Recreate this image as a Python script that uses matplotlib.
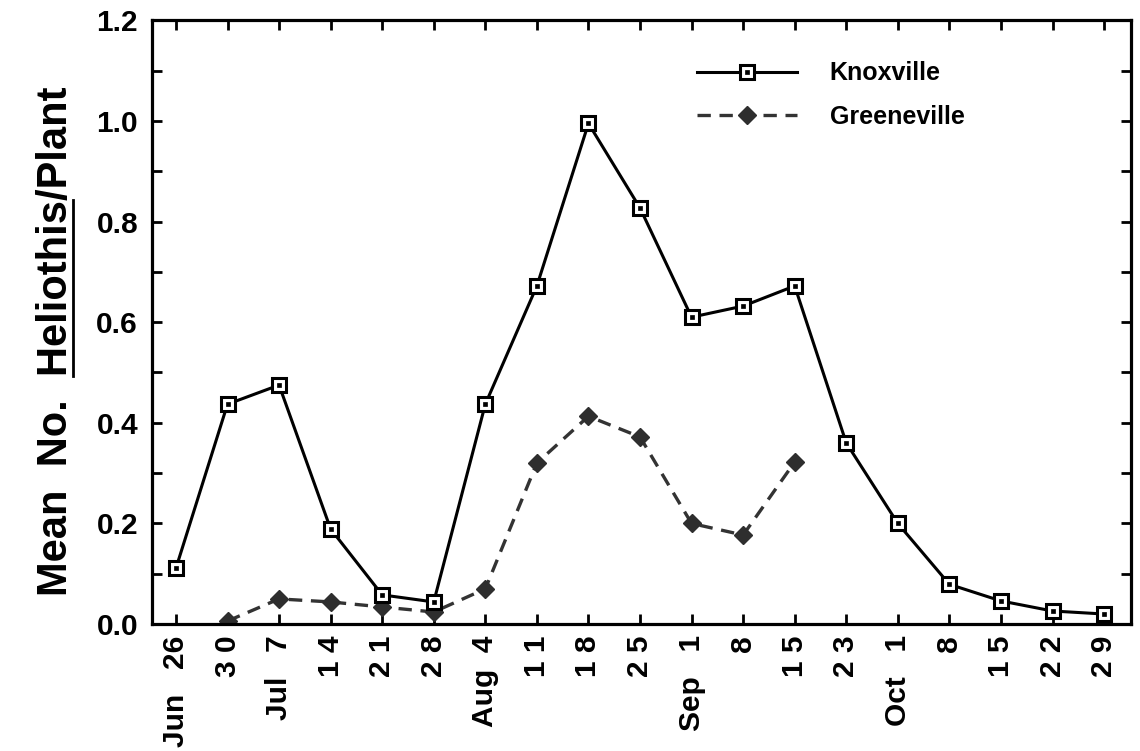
import matplotlib
matplotlib.use("Agg")
import matplotlib.pyplot as plt
from matplotlib.ticker import MultipleLocator
from matplotlib.lines import Line2D

plt.rcParams['font.family'] = ['Liberation Sans', 'DejaVu Sans']
plt.rcParams['font.weight'] = 'bold'

tick_labels = ["Jun   26", "3 0", "Jul   7", "1 4", "2 1", "2 8", "Aug  4", "1 1", "1 8",
               "2 5", "Sep   1", "8", "1 5", "2 3", "Oct   1", "8", "1 5", "2 2", "2 9"]
knoxville = [0.111, 0.437, 0.475, 0.189, 0.058, 0.044, 0.437, 0.672, 0.995, 0.827,
             0.610, 0.632, 0.672, 0.360, 0.200, 0.079, 0.046, 0.026, 0.020]
greeneville_idx = list(range(1, 13))
greeneville = [0.006, 0.050, 0.044, 0.034, 0.024, 0.070, 0.320, 0.413, 0.372,
               0.200, 0.177, 0.322]
ylabel_parts = ["Mean  No.  ", "Heliothis", "/Plant"]

fig = plt.figure(figsize=(11.4, 7.51), dpi=100)
ax = fig.add_axes([0.1333, 0.169, 0.8587, 0.804])

x = list(range(len(tick_labels)))
k_line, = ax.plot(x, knoxville, color='black', lw=2.2, marker='s', ms=9.5,
                  mfc='white', mec='black', mew=2.2, zorder=3)
k_dot, = ax.plot(x, knoxville, ls='none', marker='s', ms=2.2, mfc='black',
                 mec='black', mew=0.5, zorder=4)
g_line, = ax.plot(greeneville_idx, greeneville, color='#333333', lw=2.4,
                  dashes=(4, 2.6), marker='D', ms=9.5, mfc='#2e2e2e', mec='#2e2e2e',
                  zorder=2)

ax.set_xlim(-0.465, 18.52)
ax.set_ylim(0, 1.2)
ax.set_xticks(x)
ax.set_xticklabels(tick_labels, rotation=90, fontsize=21.5, fontweight='bold')
ax.yaxis.set_minor_locator(MultipleLocator(0.1))
ax.set_yticks([0, 0.2, 0.4, 0.6, 0.8, 1.0, 1.2])
ax.set_yticklabels(['0.0', '0.2', '0.4', '0.6', '0.8', '1.0', '1.2'],
                   fontsize=21.5, fontweight='bold')

ax.tick_params(axis='both', which='both', direction='in', top=True, right=True,
               width=2, color='black')
ax.tick_params(axis='x', which='major', length=7, pad=8)
ax.tick_params(axis='y', which='major', length=7, pad=10)
ax.tick_params(axis='y', which='minor', length=7)
for s in ax.spines.values():
    s.set_linewidth(2.3)

full_label = "".join(ylabel_parts)
ylab = ax.set_ylabel(full_label, fontsize=30, fontweight='bold')
ax.yaxis.set_label_coords(-0.078, 0.469)

leg = ax.legend([(k_line, k_dot), g_line], ['Knoxville', 'Greeneville'],
                loc='upper left', bbox_to_anchor=(0.557, 0.932), frameon=False,
                fontsize=18, numpoints=1, handlelength=4.0, handletextpad=1.3,
                labelspacing=0.78, borderpad=0, borderaxespad=0)
for t in leg.get_texts():
    t.set_fontweight('bold')

# underline the genus name in the y label
fig.canvas.draw()
renderer = fig.canvas.get_renderer()
bb = ylab.get_window_extent(renderer)
prop = ylab.get_fontproperties()
w_pre, _, _ = renderer.get_text_width_height_descent(ylabel_parts[0], prop, ismath=False)
w_mid, _, _ = renderer.get_text_width_height_descent(ylabel_parts[0] + ylabel_parts[1], prop, ismath=False)
_, _, desc = renderer.get_text_width_height_descent(full_label, prop, ismath=False)
ux = bb.x1 - desc - 2
y_start = bb.y0 + w_pre
y_end = bb.y0 + w_mid
W, H = fig.bbox.width, fig.bbox.height
fig.add_artist(Line2D([ux / W, ux / W], [y_start / H, y_end / H], color='black',
                      lw=2.0, transform=fig.transFigure))

fig.savefig('out.png', dpi=100, facecolor='white')
